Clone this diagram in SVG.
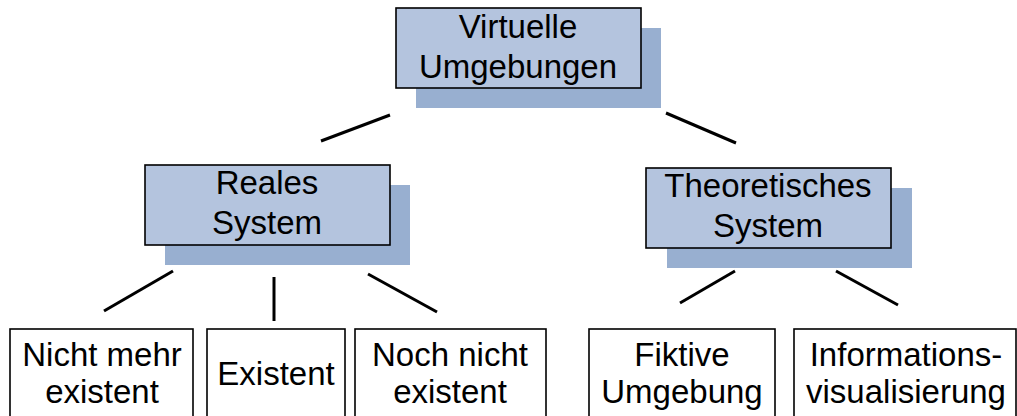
<svg xmlns="http://www.w3.org/2000/svg" width="1017" height="416" viewBox="0 0 1017 416">
<style>
.shadow{fill:#98afd0;stroke:none}
.front{fill:#b4c4de;stroke:#000;stroke-width:1.6}
.leaf{fill:#fff;stroke:#000;stroke-width:1.6}
.t{font-family:"Liberation Sans",Arial,sans-serif;font-size:33px;fill:#000;text-anchor:middle}
.c line{stroke:#000;stroke-width:3;stroke-linecap:butt}
</style>
<rect width="1017" height="416" fill="#fff"/>
<g id="virtuelle">
<rect class="shadow" x="416" y="28" width="245" height="80"/>
<rect class="front" x="396" y="8" width="245" height="80"/>
<text class="t" x="518" y="38">Virtuelle</text>
<text class="t" x="518" y="78">Umgebungen</text>
</g>
<g id="reales">
<rect class="shadow" x="165" y="185" width="245" height="80"/>
<rect class="front" x="145" y="165" width="245" height="80"/>
<text class="t" x="267" y="194">Reales</text>
<text class="t" x="267" y="234">System</text>
</g>
<g id="theoretisches">
<rect class="shadow" x="667" y="188" width="245" height="80"/>
<rect class="front" x="646" y="168" width="245" height="80"/>
<text class="t" x="768" y="197">Theoretisches</text>
<text class="t" x="768" y="237">System</text>
</g>
<g id="nichtmehr">
<rect class="leaf" x="10" y="329" width="183" height="100"/>
<text class="t" x="102" y="366">Nicht mehr</text>
<text class="t" x="102" y="403">existent</text>
</g>
<g id="existent">
<rect class="leaf" x="207" y="329" width="138" height="100"/>
<text class="t" x="276" y="385">Existent</text>
</g>
<g id="nochnicht">
<rect class="leaf" x="355" y="329" width="191" height="100"/>
<text class="t" x="450" y="366">Noch nicht</text>
<text class="t" x="450" y="403">existent</text>
</g>
<g id="fiktive">
<rect class="leaf" x="589" y="329" width="186" height="100"/>
<text class="t" x="682" y="366">Fiktive</text>
<text class="t" x="682" y="403">Umgebung</text>
</g>
<g id="info">
<rect class="leaf" x="794" y="329" width="222" height="100"/>
<text class="t" x="906" y="366">Informations-</text>
<text class="t" x="906" y="403">visualisierung</text>
</g>
<g id="connectors" class="c">
<line x1="321" y1="141" x2="390" y2="115"/>
<line x1="666" y1="113" x2="736" y2="143"/>
<line x1="104" y1="311" x2="173" y2="271"/>
<line x1="274" y1="277" x2="274" y2="321"/>
<line x1="368" y1="274" x2="437" y2="312"/>
<line x1="680" y1="303" x2="735" y2="271"/>
<line x1="836" y1="271" x2="898" y2="305"/>
</g>
</svg>
